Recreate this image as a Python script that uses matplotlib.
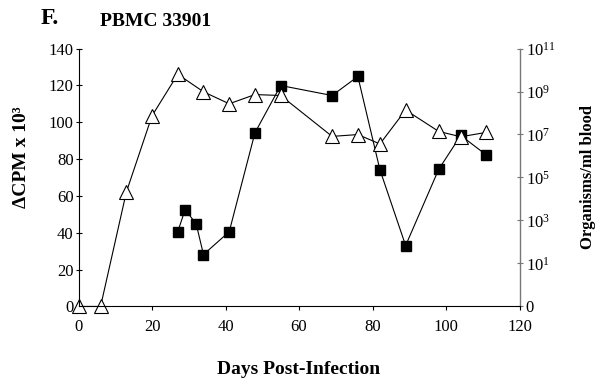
import matplotlib
matplotlib.use('Agg')
import matplotlib.pyplot as plt
from matplotlib.ticker import FixedLocator, NullLocator

# Serif look like the original figure
plt.rcParams['font.family'] = ['Liberation Serif', 'DejaVu Serif']
plt.rcParams['mathtext.fontset'] = 'custom'
plt.rcParams['mathtext.rm'] = 'Liberation Serif'
plt.rcParams['mathtext.default'] = 'rm'

# proliferation (delta CPM x 10^3), open triangles, left axis
cpm_days = [0, 6, 13, 20, 27, 34, 41, 48, 55, 69, 76, 82, 89, 98, 104, 111]
cpm_values = [0, 0, 62, 103.5, 126, 116.5, 110, 115, 114.5, 92.3, 93.3, 88.2, 106.6, 95, 92.1, 94.5]

# organisms / ml blood, filled squares, right (log) axis
org_days = [27, 29, 32, 34, 41, 48, 55, 69, 76, 82, 89, 98, 104, 111]
org_values = [3.0e2, 3.2e3, 7.0e2, 2.6e1, 3.0e2, 1.2e7, 1.9e9, 6.5e8, 5.0e9,
              2.3e5, 6.8e1, 2.4e5, 9.0e6, 1.1e6]

x_ticks = [0, 20, 40, 60, 80, 100, 120]
left_ticks = [0, 20, 40, 60, 80, 100, 120, 140]
right_ticks = [1e-1, 1e1, 1e3, 1e5, 1e7, 1e9, 1e11]
right_labels = ['0', '$10^{1}$', '$10^{3}$', '$10^{5}$', '$10^{7}$', '$10^{9}$', '$10^{11}$']

fig = plt.figure(figsize=(6.05, 3.85), dpi=100)
ax = fig.add_axes([0.1298, 0.204, 0.729, 0.670])
ax2 = ax.twinx()
# triangles drawn above the squares
ax.set_zorder(ax2.get_zorder() + 1)
ax.patch.set_visible(False)

ax.plot(cpm_days, cpm_values, color='black', lw=0.8, marker='^', ms=9.5,
        mfc='white', mec='black', mew=0.8, clip_on=False)
ax2.plot(org_days, org_values, color='black', lw=0.8, marker='s', ms=7.5,
         mfc='black', mec='black', clip_on=False)

ax.set_xlim(0, 120)
ax.set_ylim(0, 140)
ax.set_xticks(x_ticks)
ax.set_yticks(left_ticks)
ax.tick_params(axis='y', direction='inout', length=5, width=0.8, labelsize=12, pad=1)
ax.tick_params(axis='x', direction='out', length=3, width=0.8, labelsize=12, pad=6)

ax2.set_yscale('log')
ax2.set_ylim(1e-1, 1e11)
ax2.yaxis.set_major_locator(FixedLocator(right_ticks))
ax2.yaxis.set_minor_locator(NullLocator())
ax2.set_yticklabels(right_labels)
ax2.tick_params(axis='y', direction='inout', length=5, width=0.8, labelsize=12,
                pad=2, color='#777777')

for a in (ax, ax2):
    a.spines['top'].set_visible(False)
ax.spines['right'].set_visible(False)
ax2.spines['left'].set_visible(False)
ax2.spines['bottom'].set_visible(False)
ax2.spines['right'].set_color('#777777')
ax2.spines['right'].set_linewidth(1.0)
ax.spines['left'].set_linewidth(0.8)
ax.spines['bottom'].set_linewidth(0.8)

fig.text(50 / 605, 1 - 19 / 385, 'F.', fontsize=17, fontweight='bold',
         ha='center', va='center')
fig.text(100 / 605, 1 - 22 / 385, 'PBMC 33901', fontsize=14, fontweight='bold',
         ha='left', va='center')
fig.text(299 / 605, 1 - 369 / 385, 'Days Post-Infection', fontsize=14,
         fontweight='bold', ha='center', va='center')
fig.text(22 / 605, 1 - 157 / 385, 'ΔCPM x 10³', fontsize=14, fontweight='bold',
         rotation=90, ha='center', va='center')
fig.text(588 / 605, 1 - 177 / 385, 'Organisms/ml blood', fontsize=12,
         fontweight='bold', rotation=90, ha='center', va='center')

fig.savefig('out.png', dpi=100)
